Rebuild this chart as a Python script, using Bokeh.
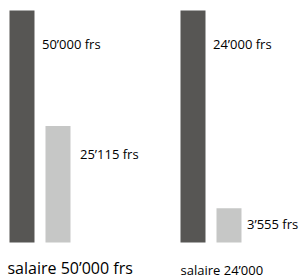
from bokeh.plotting import figure
from bokeh.models import Range1d, ColumnDataSource
from bokeh.core.properties import value
from bokeh.embed import file_html
from bokeh.resources import INLINE

# Data
salaries = [50000, 24000]
remaining = [25115, 3555]
salary_labels = ["50’000 frs", "24’000 frs"]
remaining_labels = ["25’115 frs", "3’555 frs"]
group_labels = ["salaire 50’000 frs", "salaire 24’000"]

DARK = "#575654"
LIGHT = "#c6c7c6"
FONT = "Open Sans"

groups = list(range(len(salaries)))
dodge = 0.2105
bar_w = 0.1462

dark_h = [s / s for s in salaries]
light_h = [r / s for r, s in zip(remaining, salaries)]

p = figure(width=299, height=279, output_backend="svg", toolbar_location=None,
           x_range=Range1d(-0.1257, 1.6228), y_range=Range1d(-0.1595, 1.0431),
           min_border=0, outline_line_color=None)
p.axis.visible = False
p.grid.visible = False
p.background_fill_color = "white"
p.border_fill_color = "white"

p.vbar(x=groups, top=dark_h, bottom=0, width=bar_w, fill_color=DARK, line_color=None)
p.vbar(x=[g + dodge for g in groups], top=light_h, bottom=0, width=bar_w,
       fill_color=LIGHT, line_color=None)

# value labels
src_d = ColumnDataSource(dict(x=groups, y=dark_h, t=salary_labels))
p.text(x="x", y="y", text="t", source=src_d, x_offset=20, y_offset=34,
       text_font=value(FONT), text_font_size="13px", text_color="#000000",
       text_baseline="middle", text_align="left")

light_off_x = [22, 18]
light_off_y = [28, 16]
src_l = ColumnDataSource(dict(x=[g + dodge for g in groups], y=light_h, t=remaining_labels,
                              xo=light_off_x, yo=light_off_y))
p.text(x="x", y="y", text="t", source=src_l, x_offset="xo", y_offset="yo",
       text_font=value(FONT), text_font_size="13px", text_color="#000000",
       text_baseline="middle", text_align="left")

# group labels
src_g = ColumnDataSource(dict(x=[g - bar_w / 2 for g in groups], y=[-0.1552] * len(groups),
                              t=group_labels, fs=["16px", "13px"], xo=[-2, 0]))
p.text(x="x", y="y", text="t", source=src_g, x_offset="xo", text_font=value(FONT),
       text_font_size="fs", text_color="#000000",
       text_baseline="bottom", text_align="left")

open("out.html", "w").write(file_html(p, INLINE))
